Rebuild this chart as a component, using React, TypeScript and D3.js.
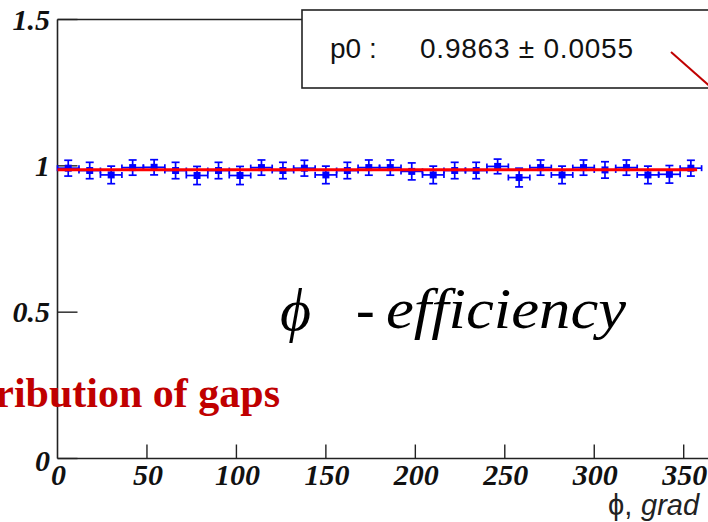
import React from "react";
import * as d3 from "d3";

const phiBins = [6, 18, 30, 42, 54, 66, 78, 90, 102, 114, 126, 138, 150, 162, 174, 186, 198, 210, 222, 234, 246, 258, 270, 282, 294, 306, 318, 330, 342, 354];
const efficiency = [0.992, 0.984, 0.969, 0.994, 0.995, 0.984, 0.967, 0.984, 0.967, 0.994, 0.984, 0.992, 0.969, 0.984, 0.994, 0.994, 0.981, 0.969, 0.984, 0.984, 0.998, 0.960, 0.994, 0.969, 0.994, 0.986, 0.994, 0.969, 0.971, 0.992];
const effErrors = [0.027, 0.028, 0.030, 0.026, 0.026, 0.028, 0.031, 0.028, 0.031, 0.026, 0.028, 0.027, 0.030, 0.028, 0.026, 0.026, 0.029, 0.030, 0.028, 0.028, 0.025, 0.032, 0.026, 0.030, 0.026, 0.028, 0.026, 0.030, 0.030, 0.027];
const binHalfWidth = 6;
const xTicks = [0, 50, 100, 150, 200, 250, 300, 350];
const yTicks = [0, 0.5, 1, 1.5];
const yTickLabels = ["0", "0.5", "1", "1.5"];
const fitP0 = 0.9863;
const fitP0Err = 0.0055;

const W = 708;
const H = 522;

export default function App() {
  const x = d3.scaleLinear().domain([0, 360]).range([57.5, 701.6]);
  const y = d3.scaleLinear().domain([0, 1.5]).range([458.5, 19.5]);
  const axisColor = "#222";
  const blue = "#0000ff";
  const tickFont = "'Liberation Serif', 'Times New Roman', serif";
  const sans = "'Liberation Sans', Arial, sans-serif";

  return (
    <svg width={W} height={H} style={{ position: "absolute", left: 0, top: 0, background: "#fff" }}>
      <rect x={0} y={0} width={W} height={H} fill="#fff" />
      {/* frame: left axis, top line, bottom axis */}
      <line x1={x(0)} y1={y(1.5)} x2={x(0)} y2={y(0)} stroke={axisColor} strokeWidth={1.6} />
      <line x1={x(0)} y1={y(1.5)} x2={W} y2={y(1.5)} stroke={axisColor} strokeWidth={1.6} />
      <line x1={x(0)} y1={y(0)} x2={W} y2={y(0)} stroke={axisColor} strokeWidth={1.6} />

      {/* y ticks */}
      {yTicks.map((t, i) => (
        <g key={"yt" + i}>
          <line x1={x(0)} x2={x(0) + 20} y1={y(t)} y2={y(t)} stroke={axisColor} strokeWidth={1.4} />
          <text
            x={50}
            y={y(t) + (t === 0 ? 12 : 10)}
            textAnchor="end"
            fontFamily={tickFont}
            fontWeight="bold"
            fontStyle="italic"
            fontSize={30}
            fill="#111"
          >
            {yTickLabels[i]}
          </text>
        </g>
      ))}

      {/* x ticks */}
      {xTicks.map((t) => (
        <g key={"xt" + t}>
          {t > 0 && <line x1={x(t)} x2={x(t)} y1={y(0)} y2={y(0) - 14} stroke={axisColor} strokeWidth={1.4} />}
          <text
            x={x(t) + 1}
            y={y(0) + 26}
            textAnchor="middle"
            fontFamily={tickFont}
            fontWeight="bold"
            fontStyle="italic"
            fontSize={30}
            fill="#111"
          >
            {t}
          </text>
        </g>
      ))}

      {/* data points with error bars */}
      {phiBins.map((phi, i) => {
        const cx = x(phi);
        const cy = y(efficiency[i]);
        const yTop = y(efficiency[i] + effErrors[i]);
        const yBot = y(efficiency[i] - effErrors[i]);
        const xl = x(phi - binHalfWidth);
        const xr = x(phi + binHalfWidth);
        return (
          <g key={"p" + i} stroke={blue} strokeWidth={1.7}>
            <line x1={cx} x2={cx} y1={yTop} y2={yBot} />
            <line x1={cx - 4} x2={cx + 4} y1={yTop} y2={yTop} />
            <line x1={cx - 4} x2={cx + 4} y1={yBot} y2={yBot} />
            <line x1={xl} x2={xr} y1={cy} y2={cy} />
            <line x1={xl} x2={xl} y1={cy - 3} y2={cy + 3} />
            <line x1={xr} x2={xr} y1={cy - 3} y2={cy + 3} />
            <rect x={cx - 3.5} y={cy - 3.5} width={7} height={7} fill={blue} stroke="none" />
          </g>
        );
      })}

      {/* fit line */}
      <line x1={x(0)} x2={x(357.5)} y1={y(fitP0)} y2={y(fitP0)} stroke="#ff0000" strokeWidth={3} />

      {/* stats box */}
      <rect x={302} y={10} width={420} height={78} fill="#fff" stroke="#222" strokeWidth={1.6} />
      <text x={330} y={58} fontFamily={sans} fontSize={28} fill="#111">
        p0 :
      </text>
      <text x={420} y={58} fontFamily={sans} fontSize={28} fill="#111" textLength={213} lengthAdjust="spacing">
        {fitP0.toFixed(4)} ± {fitP0Err.toFixed(4)}
      </text>

      {/* red annotation arrow (cropped) */}
      <line x1={671} y1={52} x2={722} y2={97} stroke="#c00000" strokeWidth={2} />

      {/* annotations */}
      <text
        x={280}
        y={330}
        fontFamily="'Liberation Serif', 'DejaVu Serif', serif"
        fontStyle="italic"
        fontSize={60}
        fill="#000"
      >
        ϕ
      </text>
      <text
        x={356}
        y={328}
        fontFamily="'Liberation Serif', 'Times New Roman', serif"
        fontStyle="italic"
        fontSize={56}
        fill="#000"
      >
        -
      </text>
      <text
        x={386}
        y={328}
        fontFamily="'Liberation Serif', 'Times New Roman', serif"
        fontStyle="italic"
        fontSize={57}
        fill="#000"
        textLength={240}
        lengthAdjust="spacingAndGlyphs"
      >
        efficiency
      </text>
      <text
        x={280}
        y={407}
        textAnchor="end"
        fontFamily="'Liberation Serif', 'Times New Roman', serif"
        fontWeight="bold"
        fontSize={42}
        fill="#c00000"
      >
        ribution of gaps
      </text>
      <text x={608} y={515} fontFamily={sans} fontSize={29} fill="#222">
        ϕ,
      </text>
      <text x={641} y={515} fontFamily={sans} fontStyle="italic" fontSize={29} fill="#222">
        grad
      </text>
    </svg>
  );
}
